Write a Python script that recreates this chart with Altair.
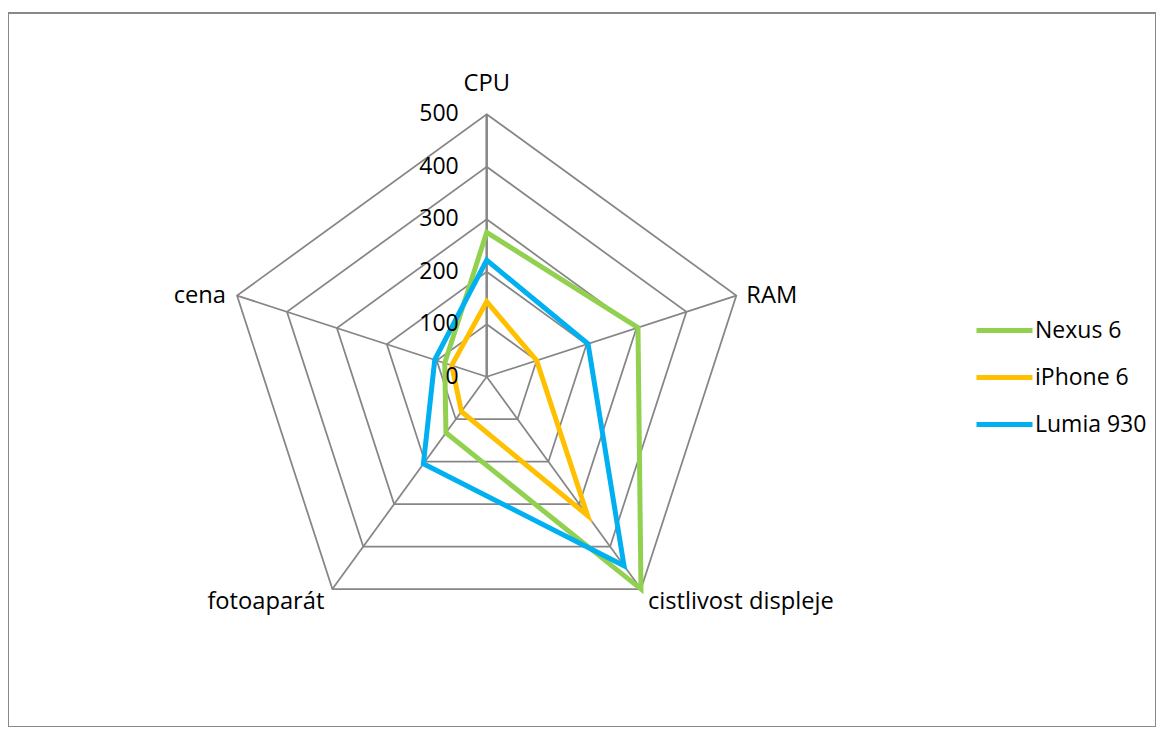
import altair as alt
import pandas as pd

categories = ["CPU", "RAM", "cistlivost displeje", "fotoaparát", "cena"]
series_names = ["Nexus 6", "iPhone 6", "Lumia 930"]
nexus = [275, 303, 500, 132, 84]
iphone = [143, 100, 327, 82, 70]
lumia = [222, 203, 445, 205, 104]
series_colors = ["#92D050", "#FFC000", "#00B0F0"]
ring_levels = [0, 100, 200, 300, 400, 500]
tick_labels = ["0", "100", "200", "300", "400", "500"]
max_value = 500

FONT = "Open Sans"
GRID = "#868686"

# ---- tables built from the arrays ----
rows = []
for name, vals in zip(series_names, [nexus, iphone, lumia]):
    for i, (c, v) in enumerate(zip(categories, vals)):
        rows.append({"series": name, "cat": c, "idx": i, "value": v})
series_df = pd.DataFrame(rows)

ring_df = pd.DataFrame([{"level": lv, "idx": i, "value": lv}
                        for lv in ring_levels[1:] for i in range(len(categories))])
spoke_df = pd.DataFrame([{"idx": i, "cat": c, "value": max_value}
                         for i, c in enumerate(categories)])
tick_df = pd.DataFrame([{"idx": 0, "value": lv, "label": t}
                        for lv, t in zip(ring_levels, tick_labels)])

n = len(categories)
W, H = 1148, 714
xscale = alt.Scale(domain=[-911.8, 1274.9], nice=False, zero=False)
yscale = alt.Scale(domain=[-667.2, 692.8], nice=False, zero=False)


def polar(ch):
    return ch.transform_calculate(
        theta=f"datum.idx * 2 * PI / {n}",
    ).transform_calculate(
        x="datum.value * sin(datum.theta)",
        y="datum.value * cos(datum.theta)",
        x0="0",
        y0="0",
    )


X = alt.X("x:Q", scale=xscale, axis=None)
Y = alt.Y("y:Q", scale=yscale, axis=None)

rings = polar(alt.Chart(ring_df)).mark_line(
    interpolate="linear-closed", color=GRID, strokeWidth=1.75
).encode(x=X, y=Y, detail="level:N", order="idx:Q")

spokes = polar(alt.Chart(spoke_df)).mark_rule(color=GRID).encode(
    x=alt.X("x0:Q", scale=xscale, axis=None),
    y=alt.Y("y0:Q", scale=yscale, axis=None),
    x2="x:Q", y2="y:Q",
    strokeWidth=alt.condition("datum.idx == 0", alt.value(2.5), alt.value(1.75)),
)

lines = polar(alt.Chart(series_df)).mark_line(
    interpolate="linear-closed", strokeWidth=5, strokeJoin="miter"
).encode(
    x=X, y=Y, order="idx:Q",
    color=alt.Color(
        "series:N",
        scale=alt.Scale(domain=series_names, range=series_colors),
        sort=series_names,
        legend=alt.Legend(
            title=None, orient="none", legendX=966, legendY=287,
            symbolType="stroke", symbolSize=3136, symbolStrokeWidth=5,
            labelFont=FONT, labelFontSize=23, labelColor="#000000",
            labelOffset=0, rowPadding=4,
        ),
    ),
)

ticks = polar(alt.Chart(tick_df)).mark_text(
    align="right", baseline="middle", dx=-28, font=FONT, fontSize=23, color="#000000"
).encode(x=X, y=Y, text="label:N")

label_specs = [
    ("CPU", dict(align="center", baseline="middle", dx=0, dy=-30)),
    ("RAM", dict(align="left", baseline="middle", dx=10, dy=0)),
    ("cistlivost displeje", dict(align="left", baseline="middle", dx=7, dy=13)),
    ("fotoaparát", dict(align="right", baseline="middle", dx=-8, dy=13)),
    ("cena", dict(align="right", baseline="middle", dx=-11, dy=0)),
]
cat_labels = []
for cat, props in label_specs:
    cat_labels.append(
        polar(alt.Chart(spoke_df)).transform_filter(alt.datum.cat == cat)
        .mark_text(font=FONT, fontSize=23.7, color="#000000", **props)
        .encode(x=X, y=Y, text="cat:N")
    )

chart = alt.layer(rings, spokes, lines, ticks, *cat_labels).properties(
    width=W, height=H,
    padding={"left": 0, "top": 5, "right": 0, "bottom": 0},
    background="white",
).configure_view(stroke="#898989", strokeWidth=2)

chart.save("out.html", embed_options={"renderer": "svg", "actions": False})
